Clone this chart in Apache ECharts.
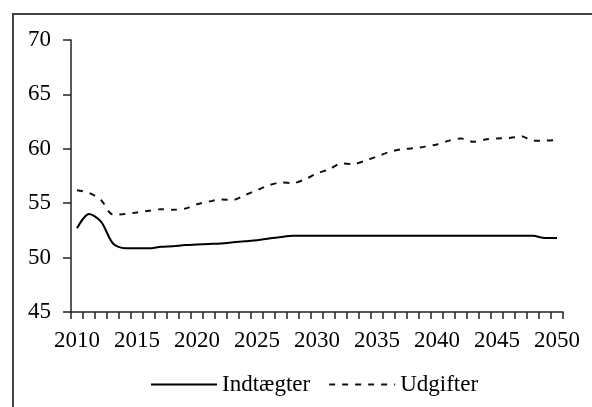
<!DOCTYPE html>
<html>
<head>
<meta charset="utf-8">
<script src="https://cdn.jsdelivr.net/npm/echarts@6/dist/echarts.min.js"></script>
<style>
html,body{margin:0;padding:0;background:#fff;}
#chart{width:592px;height:407px;}
</style>
</head>
<body>
<div id="chart"></div>
<script>
var years = [];
for (var y = 2010; y <= 2050; y++) years.push(String(y));

var indtaegter = [52.7, 54.0, 53.3, 51.3, 50.85, 50.85, 50.85, 51.0, 51.05, 51.15,
  51.2, 51.25, 51.3, 51.4, 51.5, 51.6, 51.75, 51.9, 52.0, 52.0,
  52.0, 52.0, 52.0, 52.0, 52.0, 52.0, 52.0, 52.0, 52.0, 52.0,
  52.0, 52.0, 52.0, 52.0, 52.0, 52.0, 52.0, 52.0, 52.0, 51.8, 51.8];

var udgifter = [56.2, 55.95, 55.3, 53.95, 54.0, 54.15, 54.3, 54.45, 54.4, 54.5,
  54.9, 55.15, 55.35, 55.3, 55.75, 56.2, 56.65, 56.9, 56.85, 57.2,
  57.75, 58.1, 58.65, 58.6, 58.9, 59.3, 59.7, 59.95, 60.05, 60.2,
  60.4, 60.75, 60.95, 60.65, 60.85, 60.95, 61.0, 61.15, 60.75, 60.75, 60.8];

var seriesNames = ['Indtægter', 'Udgifter'];
var yTicks = { min: 45, max: 70, interval: 5 };

var font = 'Liberation Serif, Times New Roman, serif';
var chart = echarts.init(document.getElementById('chart'), null, { renderer: 'canvas' });
chart.setOption({
  animation: false,
  backgroundColor: '#fff',
  graphic: [{
    type: 'rect',
    shape: { x: 13, y: 14, width: 640, height: 440 },
    style: { fill: 'none', stroke: '#444', lineWidth: 2 },
    silent: true
  }],
  grid: { left: 71, right: 29, top: 40, bottom: 95, containLabel: false },
  legend: {
    show: true,
    left: 145,
    top: 368,
    itemWidth: 66,
    itemHeight: 14,
    itemGap: 18,
    itemStyle: { color: 'rgba(0,0,0,0)', borderWidth: 0, opacity: 0 },
    textStyle: { fontFamily: font, fontSize: 23, color: '#000' },
    data: seriesNames
  },
  xAxis: {
    type: 'category',
    data: years,
    boundaryGap: true,
    axisLine: { lineStyle: { color: '#222', width: 1.5 } },
    axisTick: { show: true, interval: 0, length: 7, lineStyle: { color: '#222', width: 1.5 } },
    axisLabel: {
      interval: 4,
      margin: 17,
      fontFamily: font, fontSize: 23, color: '#000'
    },
    splitLine: { show: false }
  },
  yAxis: {
    type: 'value',
    min: yTicks.min, max: yTicks.max, interval: yTicks.interval,
    axisLine: { show: true, lineStyle: { color: '#222', width: 1.5 } },
    axisTick: { show: true, length: 8, lineStyle: { color: '#222', width: 1.5 } },
    axisLabel: { margin: 20, fontFamily: font, fontSize: 23, color: '#000' },
    splitLine: { show: false }
  },
  series: [
    {
      name: seriesNames[0],
      type: 'line',
      data: indtaegter,
      symbol: 'none',
      smooth: 0.3,
      lineStyle: { color: '#000', width: 2, type: 'solid' },
      itemStyle: { color: '#000' }
    },
    {
      name: seriesNames[1],
      type: 'line',
      data: udgifter,
      symbol: 'none',
      smooth: 0.3,
      lineStyle: { color: '#111', width: 2, type: [6, 7] },
      itemStyle: { color: '#111' }
    }
  ]
});
</script>
</body>
</html>
